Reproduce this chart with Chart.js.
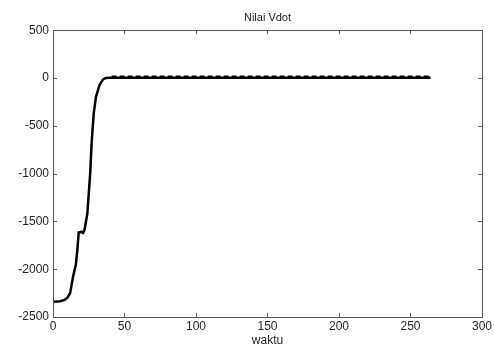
<!DOCTYPE html>
<html>
<head>
<meta charset="utf-8">
<script src="https://cdn.jsdelivr.net/npm/chart.js@4"></script>
<style>
  html, body { margin: 0; padding: 0; background: #fff; }
  #wrap { width: 494px; height: 347px; }
</style>
</head>
<body>
<div id="wrap"><canvas id="vdotChart"></canvas></div>
<script>
// values
const waktuMain = [0, 5, 8, 10, 12, 14, 16, 17, 18, 20, 21, 22, 24, 25, 26, 27, 28.5, 30, 32.5, 35, 37, 40, 264];
const vdotMain = [-2340, -2335, -2322, -2300, -2250, -2080, -1950, -1800, -1615, -1610, -1620, -1590, -1420, -1210, -1000, -680, -370, -200, -75, -15, 0, 3, 3];
const waktuRef = [41, 264];
const vdotRef = [18, 18];
const xTicks = [0, 50, 100, 150, 200, 250, 300];
const yTicks = [-2500, -2000, -1500, -1000, -500, 0, 500];

const axisColor = '#555';
const textColor = '#222';

// box round the plot with inward tick marks, like matlab
const boxTicks = {
    id: 'boxTicks',
    afterDraw(chart) {
        const ctx = chart.ctx;
        const a = chart.chartArea;
        const xs = chart.scales.x, ys = chart.scales.y;
        const len = 4;
        ctx.save();
        ctx.strokeStyle = axisColor;
        ctx.lineWidth = 1;
        ctx.beginPath();
        ctx.rect(Math.round(a.left) + 0.5, Math.round(a.top) + 0.5, Math.round(a.right - a.left), Math.round(a.bottom - a.top));
        xTicks.forEach(function(v) {
            const px = Math.round(xs.getPixelForValue(v)) + 0.5;
            ctx.moveTo(px, a.bottom); ctx.lineTo(px, a.bottom - len);
            ctx.moveTo(px, a.top); ctx.lineTo(px, a.top + len);
        });
        yTicks.forEach(function(v) {
            const py = Math.round(ys.getPixelForValue(v)) + 0.5;
            ctx.moveTo(a.left, py); ctx.lineTo(a.left + len, py);
            ctx.moveTo(a.right, py); ctx.lineTo(a.right - len, py);
        });
        ctx.stroke();
        ctx.restore();
    }
};

document.addEventListener('DOMContentLoaded', function() {
    Chart.defaults.font.family = '"Liberation Sans", Arial, sans-serif';
    Chart.defaults.font.size = 12;
    Chart.defaults.color = textColor;

    const ctx = document.getElementById('vdotChart');
    new Chart(ctx, {
        type: 'line',
        data: {
            datasets: [{
                label: 'Vdot',
                data: waktuMain.map(function(t, i) { return { x: t, y: vdotMain[i] }; }),
                borderColor: '#000',
                borderWidth: 2.5,
                pointRadius: 0,
                tension: 0
            }, {
                label: 'ref',
                data: waktuRef.map(function(t, i) { return { x: t, y: vdotRef[i] }; }),
                borderColor: '#000',
                borderWidth: 1.5,
                borderDash: [5, 3],
                pointRadius: 0,
                tension: 0
            }]
        },
        options: {
            responsive: true,
            maintainAspectRatio: false,
            animation: false,
            layout: { padding: { left: 0, right: 9, top: 0, bottom: 0 } },
            plugins: {
                legend: { display: false },
                tooltip: { enabled: false },
                title: {
                    display: true,
                    fullSize: false,
                    text: 'Nilai Vdot',
                    color: textColor,
                    font: { size: 11, weight: 'normal' },
                    padding: { top: 11, bottom: 6 }
                }
            },
            scales: {
                x: {
                    type: 'linear',
                    min: 0,
                    max: 300,
                    afterBuildTicks: function(s) { s.ticks = xTicks.map(function(v) { return { value: v }; }); },
                    afterFit: function(s) { s.height = 30; },
                    grid: { display: false, drawTicks: false },
                    border: { display: false },
                    ticks: {
                        padding: 2,
                        maxRotation: 0,
                        callback: function(v) { return String(v); }
                    },
                    title: {
                        display: true,
                        text: 'waktu',
                        color: textColor,
                        padding: { top: 0, bottom: -1 }
                    }
                },
                y: {
                    min: -2500,
                    max: 500,
                    afterBuildTicks: function(s) { s.ticks = yTicks.map(function(v) { return { value: v }; }); },
                    afterFit: function(s) { s.width = 53; },
                    grid: { display: false, drawTicks: false },
                    border: { display: false },
                    ticks: {
                        padding: 4,
                        callback: function(v) { return String(v); }
                    }
                }
            }
        },
        plugins: [boxTicks]
    });
});
</script>
</body>
</html>
